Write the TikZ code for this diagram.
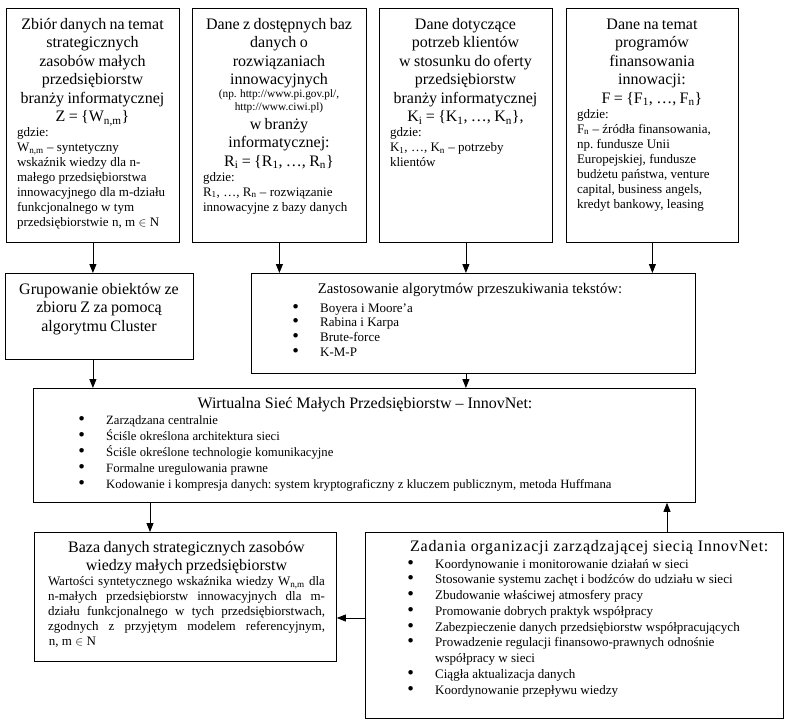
\documentclass[tikz,border=0pt]{standalone}
\usepackage{fontspec}
\setmainfont{Liberation Serif}
\newfontfamily\spacedfont[LetterSpace=4.5]{Liberation Serif}
\newfontfamily\bulfont{DejaVu Sans}
\usetikzlibrary{arrows.meta}
\frenchspacing
\newcommand\hdfont{\fontsize{16}{18.5}\selectfont}
\newcommand\smfont{\fontsize{13}{15}\selectfont}
\newcommand\urlfont{\fontsize{11.3}{13}\selectfont}
\newcommand\bul{\makebox[29pt][l]{\bulfont\fontsize{15.5}{13}\selectfont •}}
\newcommand\jline[1]{\hbox to 277pt{#1}}
\begin{document}
\begin{tikzpicture}[x=1pt,y=-1pt,
  box/.style={draw, line width=0.8pt, inner sep=0pt, anchor=north west},
  txt/.style={inner sep=0pt, anchor=base, text width=#1},
  lst/.style={inner sep=0pt, anchor=base west, text width=#1},
  arr/.style={draw, line width=0.8pt, -{Triangle[length=9pt,width=7pt]}},
  ]
\useasboundingbox (0,0) rectangle (790,726);
% top boxes
\node[box, minimum width=173pt, minimum height=234pt] (b1) at (6,8) {};
\node[box, minimum width=174pt, minimum height=234pt] (b2) at (192,8) {};
\node[box, minimum width=173pt, minimum height=234pt] (b3) at (379,8) {};
\node[box, minimum width=172pt, minimum height=234pt] (b4) at (566,8) {};
\node[txt=151pt] (b1t) at (92.5,29) {\centering\hdfont Zbiór danych na temat\\ strategicznych\\ zasobów małych\\ przedsiębiorstw\\ branży informatycznej\\ Z = \{W\textsubscript{n,m}\}\par
\raggedright\smfont gdzie:\\ W\textsubscript{n,m} – syntetyczny\\ wskaźnik wiedzy dla n-\\ małego przedsiębiorstwa\\ innowacyjnego dla m-działu\\ funkcjonalnego w tym\\ przedsiębiorstwie n, m $\in$ N\par};
\node[txt=152pt] (b2t) at (279,29) {\centering\hdfont Dane z dostępnych baz\\ danych o\\ rozwiązaniach\\ innowacyjnych\par
\urlfont (np. http://www.pi.gov.pl/,\\ http://www.ciwi.pl)\par
\hdfont w branży\\ informatycznej:\\ R\textsubscript{i} = \{R\textsubscript{1}, …, R\textsubscript{n}\}\par
\raggedright\smfont gdzie:\\ R\textsubscript{1}, …, R\textsubscript{n} – rozwiązanie\\ innowacyjne z bazy danych\par};
\node[txt=151pt] (b3t) at (465.5,29) {\centering\hdfont Dane dotyczące\\ potrzeb klientów\\ w stosunku do oferty\\ przedsiębiorstw\\ branży informatycznej\\ K\textsubscript{i} = \{K\textsubscript{1}, …, K\textsubscript{n}\},\par
\raggedright\smfont gdzie:\\ K\textsubscript{1}, …, K\textsubscript{n} – potrzeby\\ klientów\par};
\node[txt=150pt] (b4t) at (652,29) {\centering\hdfont Dane na temat\\ programów\\ finansowania\\ innowacji:\\ F = \{F\textsubscript{1}, …, F\textsubscript{n}\}\par
\raggedright\smfont gdzie:\\ F\textsubscript{n} – źródła finansowania,\\ np. fundusze Unii\\ Europejskiej, fundusze\\ budżetu państwa, venture\\ capital, business angels,\\ kredyt bankowy, leasing\par};
% middle row
\node[box, minimum width=188pt, minimum height=86pt] (grp) at (5,273) {};
\node[txt=180pt] (grpt) at (99,294) {\centering\hdfont Grupowanie obiektów ze\\ zbioru Z za pomocą\\ algorytmu Cluster\par};
\node[box, minimum width=444pt, minimum height=100pt] (zast) at (251,273) {};
\node[inner sep=0pt, anchor=base] (zasth) at (470,293) {\fontsize{14.7}{17}\selectfont Zastosowanie algorytmów przeszukiwania tekstów:};
\node[lst=380pt] (zastl) at (291,312) {\raggedright\fontsize{13}{14.7}\selectfont \bul Boyera i Moore’a\\ \bul Rabina i Karpa\\ \bul Brute-force\\ \bul K-M-P\par};
% big box
\node[box, minimum width=662pt, minimum height=114pt] (big) at (33,388) {};
\node[inner sep=0pt, anchor=base] (bigh) at (365,408) {\hdfont Wirtualna Sieć Małych Przedsiębiorstw – InnovNet:};
\node[lst=600pt] (bigl) at (77,424) {\raggedright\fontsize{12.7}{16}\selectfont \bul Zarządzana centralnie\\ \bul Ściśle określona architektura sieci\\ \bul Ściśle określone technologie komunikacyjne\\ \bul Formalne uregulowania prawne\\ \bul Kodowanie i kompresja danych: system kryptograficzny z kluczem publicznym, metoda Huffmana\par};
% bottom
\node[box, minimum width=302pt, minimum height=129pt] (baza) at (34,532) {};
\node[txt=277pt] (bazat) at (186.5,552) {\centering\hdfont Baza danych strategicznych zasobów\\ wiedzy małych przedsiębiorstw\par
\smfont\spaceskip=3.25pt plus 20pt minus 1pt\relax
\jline{Wartości syntetycznego wskaźnika wiedzy W\textsubscript{n,m} dla}
\jline{n-małych przedsiębiorstw innowacyjnych dla m-}
\jline{działu funkcjonalnego w tych przedsiębiorstwach,}
\jline{zgodnych z przyjętym modelem referencyjnym,}
\jline{\hspace*{1pt}n, m $\in$ N\hfil}};
\node[box, minimum width=418pt, minimum height=186pt] (zad) at (365,532) {};
\node[inner sep=0pt, anchor=base west] (zadh) at (410,551) {\spacedfont\hdfont Zadania organizacji zarządzającej siecią InnovNet:};
\node[lst=370pt] (zadl) at (406,568) {\raggedright\fontsize{13}{15.75}\selectfont \bul Koordynowanie i monitorowanie działań w sieci\\ \bul Stosowanie systemu zachęt i bodźców do udziału w sieci\\ \bul Zbudowanie właściwej atmosfery pracy\\ \bul Promowanie dobrych praktyk współpracy\\ \bul Zabezpieczenie danych przedsiębiorstw współpracujących\\ \bul Prowadzenie regulacji finansowo-prawnych odnośnie\\ \hspace*{29pt}współpracy w sieci\\ \bul Ciągła aktualizacja danych\\ \bul Koordynowanie przepływu wiedzy\par};
% connectors
\coordinate (c1) at (150,0);
\coordinate (c2) at (667,0);
\coordinate (c3) at (0,618);
\draw[arr] (b1.south) -- (b1.south |- grp.north);
\draw[arr] (b2.south) -- (b2.south |- zast.north);
\draw[arr] (b3.south) -- (b3.south |- zast.north);
\draw[arr] (b4.south) -- (b4.south |- zast.north);
\draw[arr] (grp.south -| b1.south) -- (big.north -| b1.south);
\draw[arr] (zast.south -| b3.south) -- (big.north -| b3.south);
\draw[arr] (big.south -| c1) -- (baza.north -| c1);
\draw[arr] (zad.north -| c2) -- (big.south -| c2);
\draw[arr] (zad.west |- c3) -- (baza.east |- c3);
\end{tikzpicture}
\end{document}
